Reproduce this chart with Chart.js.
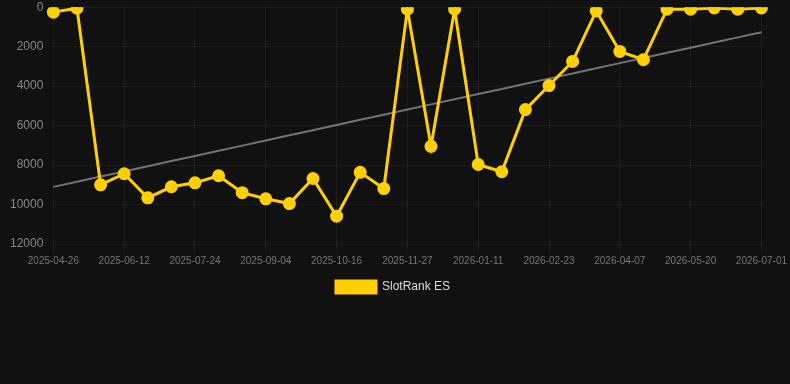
<!DOCTYPE html>
<html>
<head>
<meta charset="utf-8">
<script src="https://cdn.jsdelivr.net/npm/chart.js@4/dist/chart.umd.min.js"></script>
<style>
  html, body { margin: 0; padding: 0; background: #111111; overflow: hidden; }
  #wrap { position: relative; width: 790px; height: 313px; margin-top: -10px; }
</style>
</head>
<body>
<div id="wrap"><canvas id="chart-rank"></canvas></div>
<script>
// Datas das medições (eixo X)
const dateLabels = [
  '2025-04-26', '2025-05-12', '2025-05-28', '2025-06-12', '2025-06-26', '2025-07-10',
  '2025-07-24', '2025-08-07', '2025-08-21', '2025-09-04', '2025-09-18', '2025-10-02',
  '2025-10-16', '2025-10-30', '2025-11-13', '2025-11-27', '2025-12-12', '2025-12-27',
  '2026-01-11', '2026-01-25', '2026-02-09', '2026-02-23', '2026-03-09', '2026-03-23',
  '2026-04-07', '2026-04-21', '2026-05-05', '2026-05-20', '2026-06-03', '2026-06-17',
  '2026-07-01'
];

// Posição no ranking (menor = melhor)
const rankValues = [
  250, 50, 9000, 8440, 9660, 9100, 8900, 8540, 9400, 9710, 9950, 8680,
  10590, 8370, 9190, 100, 7050, 100, 7970, 8340, 5190, 3970, 2750, 190,
  2240, 2660, 100, 100, 40, 100, 40
];

const seriesName = 'SlotRank ES';
const yTicks = [0, 2000, 4000, 6000, 8000, 10000, 12000];

// Linha de tendência (regressão linear simples)
function tendencia(valores) {
  const n = valores.length;
  let sx = 0, sy = 0, sxy = 0, sxx = 0;
  valores.forEach((v, i) => { sx += i; sy += v; sxy += i * v; sxx += i * i; });
  const a = (n * sxy - sx * sy) / (n * sxx - sx * sx);
  const b = (sy - a * sx) / n;
  return valores.map((_, i) => a * i + b);
}

const fonte = "'Liberation Sans', Arial, sans-serif";

new Chart(document.getElementById('chart-rank'), {
  type: 'line',
  data: {
    labels: dateLabels,
    datasets: [
      {
        label: seriesName,
        data: rankValues,
        borderColor: '#ffd000',
        backgroundColor: '#ffd000',
        borderWidth: 3,
        pointRadius: 5,
        pointBackgroundColor: '#ffd000',
        pointBorderColor: '#ffd000',
        tension: 0
      },
      {
        label: 'trend',
        data: tendencia(rankValues),
        borderColor: 'rgba(140,140,140,0.8)',
        borderWidth: 2,
        pointRadius: 0,
        fill: false
      }
    ]
  },
  options: {
    responsive: true,
    maintainAspectRatio: false,
    animation: false,
    layout: { padding: { left: 0, right: 4, top: 0, bottom: 0 } },
    plugins: {
      tooltip: { enabled: false },
      legend: {
        position: 'bottom',
        labels: {
          color: '#dddddd',
          boxWidth: 40,
          boxHeight: 12,
          padding: 11,
          font: { size: 12, family: fonte },
          filter: item => item.text === seriesName
        }
      }
    },
    scales: {
      x: {
        offset: false,
        grid: { color: 'rgba(255,255,255,0.05)', tickLength: 8 },
        border: { display: false },
        ticks: {
          color: '#777777',
          maxRotation: 0,
          autoSkip: true,
          maxTicksLimit: 11,
          font: { size: 10, family: fonte }
        }
      },
      y: {
        reverse: true,
        min: yTicks[0],
        max: yTicks[yTicks.length - 1],
        grid: { color: 'rgba(255,255,255,0.05)', drawTicks: false },
        border: { display: false },
        afterBuildTicks: scale => { scale.ticks = yTicks.map(v => ({ value: v })); },
        ticks: {
          color: '#888888',
          padding: 10,
          font: { size: 12, family: fonte },
          callback: v => String(v)
        }
      }
    }
  }
});
</script>
</body>
</html>
